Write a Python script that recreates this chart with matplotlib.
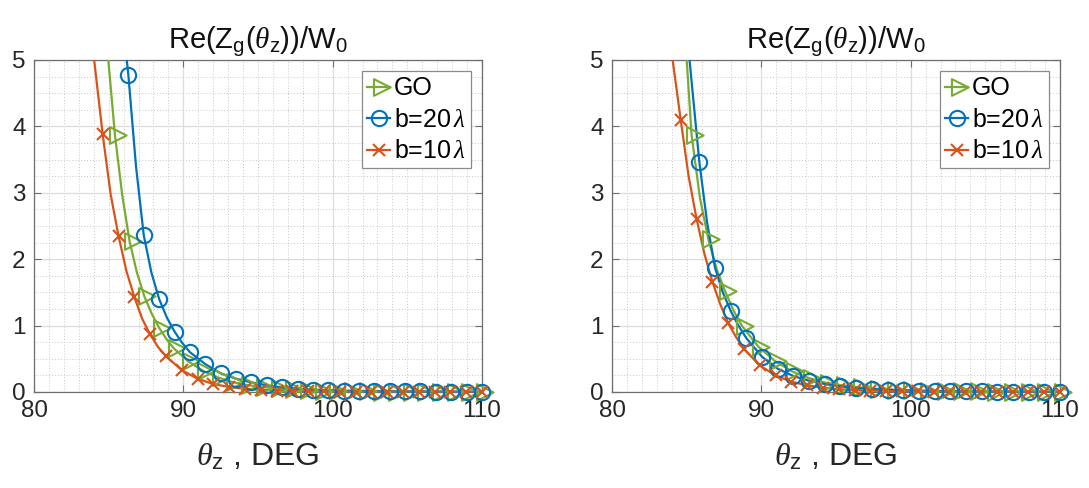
import numpy as np
import matplotlib
matplotlib.use("Agg")
import matplotlib.pyplot as plt
from matplotlib.path import Path
from matplotlib.lines import Line2D

# --- Data ---
# left panel
L_GO_X = [85.42, 86.40, 87.39, 88.37, 89.35, 90.34, 91.32, 92.30, 93.29, 94.27, 95.25, 96.24, 97.22,
          98.20, 99.19, 100.17, 101.15, 102.14, 103.12, 104.10, 105.08, 106.07, 107.05, 108.03, 109.02, 110.0]
L_GO_Y = [3.87, 2.27, 1.44, 0.97, 0.66, 0.46, 0.32, 0.22, 0.15, 0.105, 0.075, 0.053, 0.038,
          0.028, 0.020, 0.015, 0.012, 0.009, 0.007, 0.006, 0.005, 0.004, 0.004, 0.003, 0.003, 0.002]
L_GO_XE = [84.8, 85.9, 86.89, 87.88, 88.86]
L_GO_YE = [5.45, 2.98, 1.80, 1.18, 0.80]

L_B20_X = [86.32, 87.35, 88.38, 89.41, 90.44, 91.47, 92.50, 93.53, 94.56, 95.59, 96.62, 97.65,
           98.68, 99.71, 100.74, 101.76, 102.79, 103.82, 104.85, 105.88, 106.91, 107.94, 108.97, 110.0]
L_B20_Y = [4.77, 2.36, 1.40, 0.91, 0.60, 0.42, 0.28, 0.20, 0.145, 0.10, 0.07, 0.05,
           0.035, 0.027, 0.020, 0.016, 0.013, 0.011, 0.009, 0.008, 0.007, 0.006, 0.005, 0.005]
L_B20_XE = [86.0, 86.83, 87.86, 88.9, 89.92]
L_B20_YE = [5.45, 3.40, 1.80, 1.12, 0.74]

L_B10_X = [84.60, 85.66, 86.72, 87.77, 88.83, 89.89, 90.95, 92.01, 93.07, 94.12, 95.18, 96.24, 97.30,
           98.36, 99.42, 100.47, 101.53, 102.59, 103.65, 104.71, 105.77, 106.82, 107.88, 108.94, 110.0]
L_B10_Y = [3.88, 2.35, 1.43, 0.87, 0.54, 0.33, 0.20, 0.12, 0.075, 0.048, 0.032, 0.022, 0.016,
           0.012, 0.009, 0.007, 0.005, 0.004, 0.003, 0.003, 0.002, 0.002, 0.002, 0.001, 0.001]
L_B10_XE = [83.9, 85.13, 86.19, 87.25, 88.3]
L_B10_YE = [5.25, 2.98, 1.82, 1.10, 0.68]

# right panel
R_GO_X = [85.33, 86.45, 87.57, 88.69, 89.81, 90.94, 92.06, 93.18, 94.30, 95.42, 96.54, 97.67,
          98.79, 99.91, 101.03, 102.15, 103.27, 104.39, 105.52, 106.64, 107.76, 108.88, 110.0]
R_GO_Y = [3.87, 2.30, 1.52, 1.00, 0.68, 0.46, 0.31, 0.21, 0.14, 0.10, 0.07, 0.05,
          0.035, 0.025, 0.018, 0.013, 0.010, 0.008, 0.006, 0.005, 0.004, 0.003, 0.003]
R_GO_XE = [84.9, 85.89, 87.01, 88.13]
R_GO_YE = [5.35, 2.92, 1.85, 1.23]

R_B20_X = [85.85, 86.90, 87.95, 89.00, 90.05, 91.10, 92.15, 93.20, 94.25, 95.30, 96.35, 97.40,
           98.45, 99.50, 100.55, 101.60, 102.65, 103.70, 104.75, 105.80, 106.85, 107.90, 108.95, 110.0]
R_B20_Y = [3.46, 1.87, 1.22, 0.81, 0.53, 0.35, 0.24, 0.17, 0.12, 0.085, 0.06, 0.045,
           0.033, 0.025, 0.019, 0.015, 0.012, 0.010, 0.008, 0.007, 0.006, 0.005, 0.005, 0.004]
R_B20_XE = [85.0, 86.37, 87.42, 88.47]
R_B20_YE = [5.45, 2.55, 1.50, 1.00]

R_B10_X = L_B10_X
R_B10_Y = [4.10, 2.61, 1.66, 1.04, 0.65, 0.40, 0.25, 0.155, 0.10, 0.065, 0.043, 0.030, 0.021,
           0.015, 0.011, 0.008, 0.006, 0.005, 0.004, 0.003, 0.003, 0.002, 0.002, 0.002, 0.001]
R_B10_XE = [83.9, 85.13, 86.19, 87.25, 88.3]
R_B10_YE = [5.27, 3.25, 2.08, 1.32, 0.83]

LABELS = ["GO", r"b=20$\,\lambda$", r"b=10$\,\lambda$"]
TITLE = r"Re(Z$_\mathsf{g}$($\theta_\mathsf{z}$))/W$_\mathsf{0}$"
XLABEL = r"$\theta_\mathsf{z}$ , DEG"

# --- Style ---
plt.rcParams["font.family"] = ["Liberation Sans", "DejaVu Sans"]
plt.rcParams["mathtext.fontset"] = "custom"
plt.rcParams["mathtext.rm"] = "Liberation Sans"
plt.rcParams["mathtext.sf"] = "Liberation Sans"
plt.rcParams["mathtext.it"] = "Liberation Serif:italic"

C_GO = "#77AC30"
C_B20 = "#0072BD"
C_B10 = "#D95319"
TRI = Path([(-2, 3), (-2, -3), (4, 0), (-2, 3)], [Path.MOVETO, Path.LINETO, Path.LINETO, Path.CLOSEPOLY])
SPINE = "#6e6e6e"

series_style = [
    dict(color=C_GO, marker=TRI, ms=16),
    dict(color=C_B20, marker="o", ms=11),
    dict(color=C_B10, marker="x", ms=9),
]


def line_xy(xm, ym, xe, ye):
    x = np.array(list(xm) + list(xe))
    y = np.array(list(ym) + list(ye))
    o = np.argsort(x)
    return x[o], y[o]


def draw_panel(ax, data):
    for (xm, ym, xe, ye), st in zip(data, series_style):
        lx, ly = line_xy(xm, ym, xe, ye)
        ax.plot(lx, ly, color=st["color"], lw=1.6, zorder=3)
        ax.plot(xm, ym, ls="none", marker=st["marker"], ms=st["ms"], mfc="none",
                mec=st["color"], mew=1.5, clip_on=False, zorder=4)

    ax.set_xlim(80, 110)
    ax.set_ylim(0, 5)
    ax.set_xticks([80, 90, 100, 110])
    ax.set_yticks([0, 1, 2, 3, 4, 5])
    ax.set_xticks(np.arange(80, 111, 1), minor=True)
    ax.set_yticks(np.arange(0, 5.01, 0.25), minor=True)
    ax.grid(True, which="major", color="#dcdcdc", lw=0.9)
    ax.grid(True, which="minor", color="#c8c8c8", lw=0.7, ls=(0, (1, 2)))
    ax.set_axisbelow(True)
    ax.tick_params(which="major", direction="in", top=True, right=True, length=5,
                   width=0.8, color=SPINE, labelsize=17.5, labelcolor="#262626", pad=6)
    ax.tick_params(which="minor", length=0)
    for s in ax.spines.values():
        s.set_color(SPINE)
        s.set_linewidth(0.9)
    ax.set_title(TITLE, fontsize=21, color="#111111", pad=8)
    ax.set_xlabel(XLABEL, fontsize=23, color="#262626", labelpad=14)

    handles = [Line2D([], [], color=st["color"], lw=1.6, marker=st["marker"], ms=st["ms"],
                      mfc="none", mec=st["color"], mew=1.5) for st in series_style]
    leg = ax.legend(handles, LABELS, loc="upper right", fontsize=18, numpoints=1,
                    handlelength=0.95, handletextpad=0.15, borderpad=0.2, labelspacing=0.3,
                    borderaxespad=0.45, fancybox=False, framealpha=1)
    leg.get_frame().set_edgecolor("#8a8a8a")
    leg.get_frame().set_linewidth(0.9)


fig = plt.figure(figsize=(10.89, 4.88), dpi=100)
ax1 = fig.add_axes([34 / 1089, 96 / 488, 448 / 1089, 332 / 488])
ax2 = fig.add_axes([612 / 1089, 96 / 488, 448 / 1089, 332 / 488])

draw_panel(ax1, [(L_GO_X, L_GO_Y, L_GO_XE, L_GO_YE),
                 (L_B20_X, L_B20_Y, L_B20_XE, L_B20_YE),
                 (L_B10_X, L_B10_Y, L_B10_XE, L_B10_YE)])
draw_panel(ax2, [(R_GO_X, R_GO_Y, R_GO_XE, R_GO_YE),
                 (R_B20_X, R_B20_Y, R_B20_XE, R_B20_YE),
                 (R_B10_X, R_B10_Y, R_B10_XE, R_B10_YE)])

fig.savefig("out.png", dpi=100)
